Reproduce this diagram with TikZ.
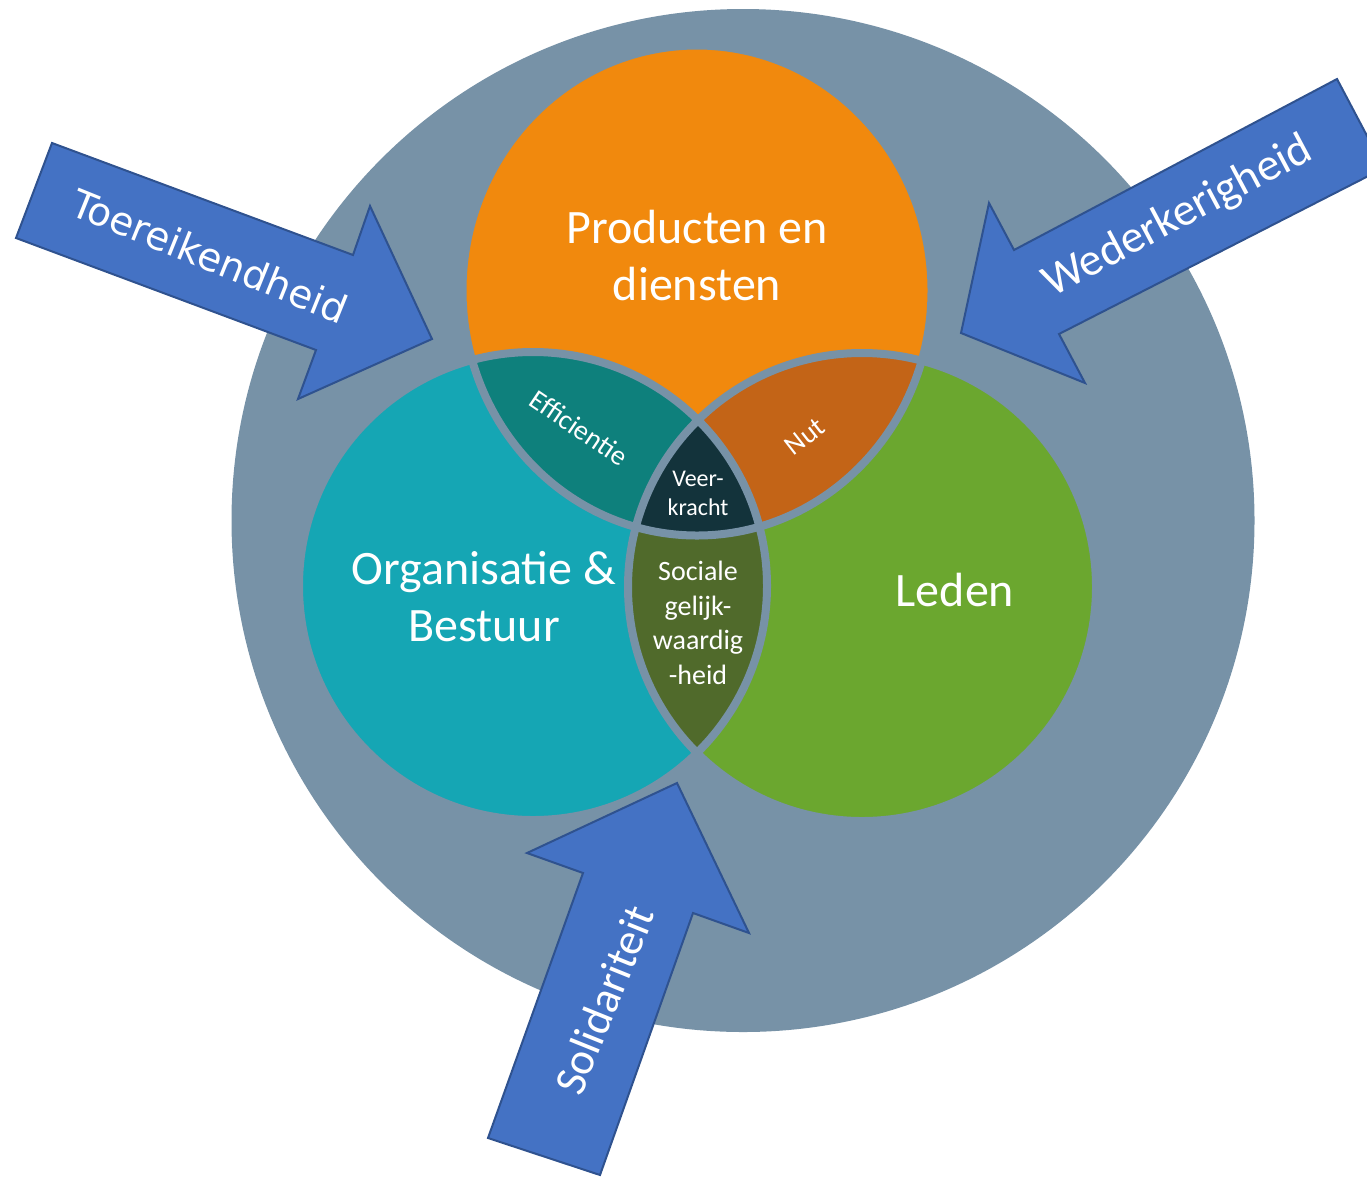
\documentclass[tikz,border=0pt]{standalone}
\usepackage{fontspec}
\setmainfont{Carlito}
\newfontfamily\dejavu{DejaVu Sans}
\definecolor{bgc}{RGB}{119,146,167}
\definecolor{orangec}{RGB}{241,137,13}
\definecolor{tealc}{RGB}{21,166,180}
\definecolor{greenc}{RGB}{107,167,47}
\definecolor{effc}{RGB}{14,128,124}
\definecolor{nutc}{RGB}{195,100,23}
\definecolor{socc}{RGB}{80,106,43}
\definecolor{veerc}{RGB}{19,51,59}
\definecolor{arrowc}{RGB}{68,114,196}
\definecolor{arrowb}{RGB}{47,82,143}
\tikzset{
  blockarrow/.style={fill=arrowc, draw=arrowb, line width=2pt, line join=miter},
  sep/.style={draw=bgc, line width=8pt},
  big/.style={text=white, align=center, font=\fontsize{48}{57}\selectfont},
  small/.style={text=white, align=center, font=\fontsize{28}{32}\selectfont},
  arrowtext/.style={text=white, font=\fontsize{45}{50}\selectfont},
}
\begin{document}
\begin{tikzpicture}[x=1pt,y=-1pt]
\useasboundingbox (0,0) rectangle (1367,1176);
\clip (0,0) rectangle (1367,1176);
% outer circle
\fill[bgc] (743,520.5) circle[radius=511.5pt];
% centres
\coordinate (co) at (697,290.5);
\coordinate (ct) at (533,586);
\coordinate (cg) at (862,587);
\def\R{234pt}
\def\orangeshape{(co) ellipse[x radius=234.5pt, y radius=245pt]}
% main circles
\fill[orangec] \orangeshape;
\fill[tealc] (ct) circle[radius=\R];
\fill[greenc] (cg) circle[radius=\R];
% lenses
\begin{scope}
  \clip \orangeshape;
  \fill[effc] (ct) circle[radius=\R];
  \fill[nutc] (cg) circle[radius=\R];
\end{scope}
\begin{scope}
  \clip (ct) circle[radius=\R];
  \fill[socc] (cg) circle[radius=\R];
\end{scope}
\begin{scope}
  \clip \orangeshape;
  \clip (ct) circle[radius=\R];
  \fill[veerc] (cg) circle[radius=\R];
\end{scope}
% separators
\draw[sep] \orangeshape;
\draw[sep] (ct) circle[radius=\R];
\draw[sep] (cg) circle[radius=\R];
% labels
\node[big] (prod) at (697,256) {Producten en\\diensten};
\node[big] (org) at (484,597) {Organisatie \&\\Bestuur};
\node[big] (leden) at (955,590) {Leden};
\node[small, rotate=-34] (eff) at (579,428) {Efficientie};
\node[small, rotate=38] (nut) at (805,437) {Nut};
\node[text=white, align=center, font=\fontsize{24}{29}\selectfont] (veer) at (698,493) {Veer-\\kracht};
\node[text=white, align=center, font=\fontsize{28}{34.7}\selectfont] (soc) at (698,623) {Sociale\\gelijk-\\waardig\\-heid};
% arrows
\draw[blockarrow] (52,143) -- (353,255) -- (370,206) -- (432,339) -- (298,399) -- (316,350) -- (16,238) -- cycle;
\node[arrowtext, font=\dejavu\fontsize{39}{44}\selectfont, rotate=-22] (toer) at (210,256) {Toereikendheid};
\draw[blockarrow] (1337,79) -- (1014,250) -- (989,203) -- (961,333) -- (1085,383) -- (1059,334) -- (1384,168) -- cycle;
\node[arrowtext, font=\fontsize{46}{50}\selectfont, rotate=28] (weder) at (1178,217) {Wederkerigheid};
\draw[blockarrow] (488,1138) -- (583,873) -- (527,853) -- (677,783) -- (749,933) -- (693,913) -- (600,1175) -- cycle;
\node[arrowtext, rotate=68] (sol) at (604,1000) {Solidariteit};
\end{tikzpicture}
\end{document}
